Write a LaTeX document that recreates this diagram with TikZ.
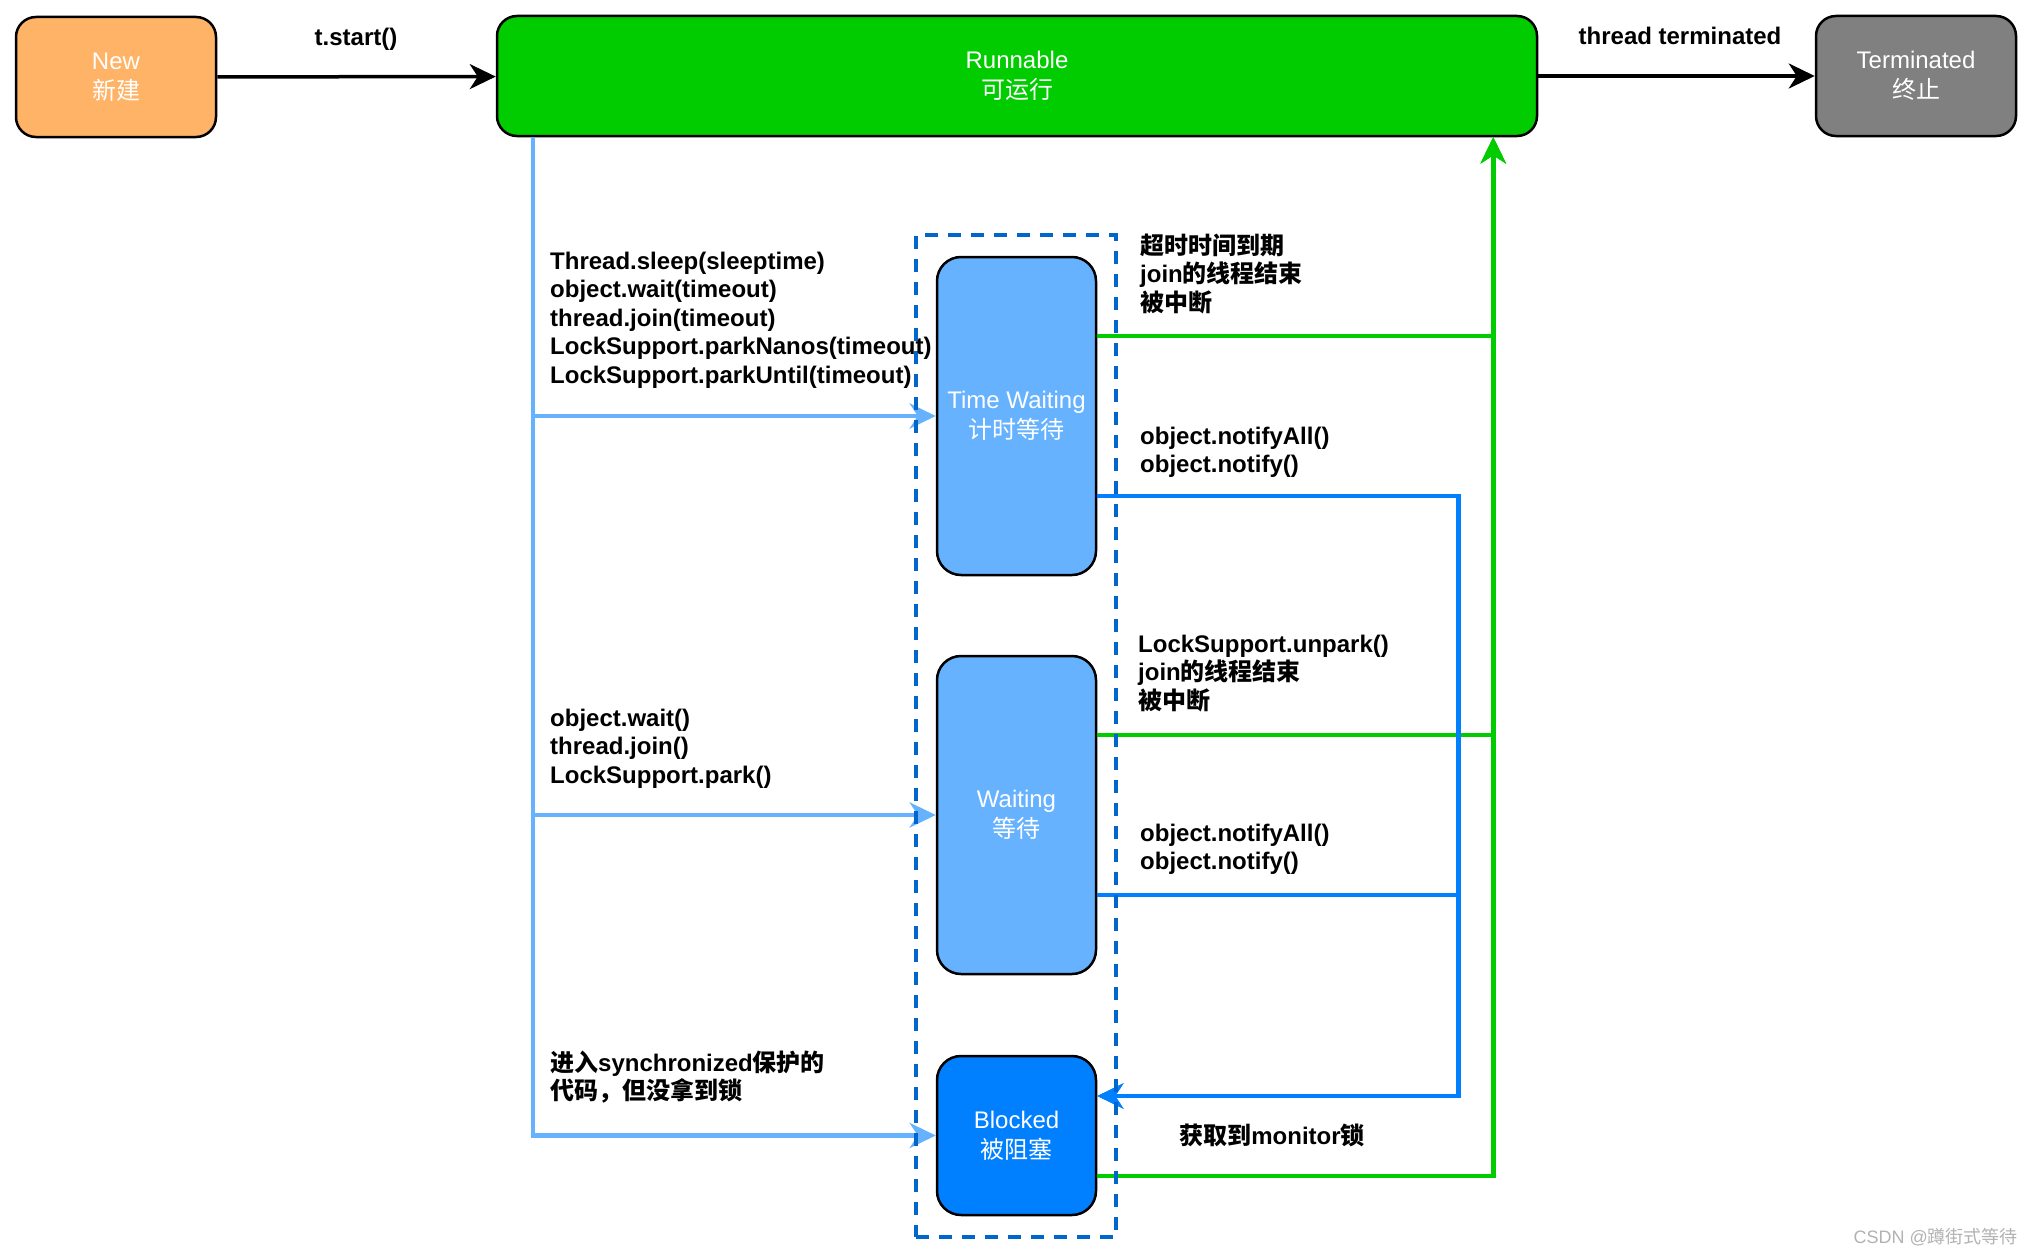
\documentclass[tikz,border=0pt]{standalone}
\usepackage{fontspec}
\setmainfont{Liberation Sans}
\newfontfamily\cjk{Noto Sans CJK SC}
\usetikzlibrary{arrows.meta}
\definecolor{newfill}{HTML}{FFB366}
\definecolor{runfill}{HTML}{00CC00}
\definecolor{termfill}{HTML}{808080}
\definecolor{lblue}{HTML}{66B2FF}
\definecolor{dblue}{HTML}{007FFF}
\definecolor{dashc}{HTML}{0066CC}
\definecolor{gline}{HTML}{00CC00}
\newcommand\fl{\rule{0pt}{22pt}}
\begin{document}
\begin{tikzpicture}[x=1pt,y=-1pt,
  box/.style={draw=black,line width=2.5pt,rounded corners=20pt,text=white,align=center,inner sep=0pt,font=\fontsize{24}{30}\selectfont},
  lab/.style={font=\bfseries\fontsize{24}{28.5}\selectfont,align=left,inner sep=0pt,anchor=north west},
  elab/.style={font=\bfseries\fontsize{24}{28.5}\selectfont,inner sep=0pt,anchor=base},
  tipst/.style={-{Stealth[length=26pt,width=25pt,inset=8pt]}},
  blk/.style={line width=3.5pt,draw=black,tipst},
  lbl/.style={line width=4.5pt,draw=lblue,tipst},
  grn/.style={line width=4.5pt,draw=gline,tipst},
  dbl/.style={line width=4.5pt,draw=dblue,tipst}]
\useasboundingbox (0,0) rectangle (2034,1255);

% states
\node[box,fill=newfill,minimum width=200pt,minimum height=120pt] (new) at (116,77) {New\\{\cjk 新建}};
\node[box,fill=runfill,minimum width=1040pt,minimum height=120pt] (run) at (1017,76) {Runnable\\{\cjk 可运行}};
\node[box,fill=termfill,minimum width=200pt,minimum height=120pt] (term) at (1916,76) {Terminated\\{\cjk 终止}};
\node[box,fill=lblue,minimum width=159pt,minimum height=318pt,rounded corners=24pt] (tw) at (1016.5,416) {Time Waiting\\{\cjk 计时等待}};
\node[box,fill=lblue,minimum width=159pt,minimum height=318pt,rounded corners=24pt] (wait) at (1016.5,815) {Waiting\\{\cjk 等待}};
\node[box,fill=dblue,minimum width=159pt,minimum height=159pt,rounded corners=24pt] (blk) at (1016.5,1135.5) {Blocked\\{\cjk 被阻塞}};

% top connectors
\draw[blk] (new) -- (run);
\draw[blk] (run) -- (term);
\node[elab] (lstart) at (356,46) {t.start()};
\node[elab] (lterm) at (1680,45) {thread terminated};

% left light-blue connectors
\draw[lbl] ([xshift=37pt]run.south west) |- (tw.west);
\draw[lbl] ([xshift=37pt]run.south west) |- (wait.west);
\draw[lbl] ([xshift=37pt]run.south west) |- (blk.west);

% green returns to Runnable
\draw[grn] ([yshift=80pt]tw.east) -| ([xshift=-45pt]run.south east);
\draw[grn] ([yshift=80pt]wait.east) -| ([xshift=-45pt]run.south east);
\draw[grn] ([yshift=-40.5pt]blk.east) -| ([xshift=-45pt]run.south east);

% blue notify to Blocked
\draw[dbl] ([yshift=-80pt]tw.east) -| ([xshift=361pt,yshift=39.5pt]blk.east) -- ([yshift=39.5pt]blk.east);
\draw[dbl] ([yshift=-80pt]wait.east) -| ([xshift=361pt,yshift=39.5pt]blk.east) -- ([yshift=39.5pt]blk.east);

% dashed group
\node[draw=dashc,line width=4pt,dash pattern=on 13pt off 10pt,minimum width=200pt,minimum height=1002pt,inner sep=0pt] (grp) at (1016,736) {};

% labels
\node[lab] (l1) at (550,247) {\fl Thread.sleep(sleeptime)\\object.wait(timeout)\\thread.join(timeout)\\LockSupport.parkNanos(timeout)\\LockSupport.parkUntil(timeout)};
\node[lab] (l2) at (550,704) {\fl object.wait()\\thread.join()\\LockSupport.park()};
\node[lab] (l3) at (550,1049) {\fl {\cjk 进入}synchronized{\cjk 保护的}\\{\cjk 代码，但没拿到锁}};
\node[lab] (r1) at (1140,232) {\fl {\cjk 超时时间到期}\\join{\cjk 的线程结束}\\{\cjk 被中断}};
\node[lab] (r2) at (1140,422) {\fl object.notifyAll()\\object.notify()};
\node[lab] (r3) at (1138,630) {\fl LockSupport.unpark()\\join{\cjk 的线程结束}\\{\cjk 被中断}};
\node[lab] (r4) at (1140,819) {\fl object.notifyAll()\\object.notify()};
\node[elab] (r5) at (1272,1144) {{\cjk 获取到}monitor{\cjk 锁}};

% watermark
\node[anchor=base east,inner sep=0pt,text=black!30,font=\fontsize{18}{20}\selectfont] (wm) at (2018,1243) {CSDN @{\cjk 蹲街式等待}};
\end{tikzpicture}
\end{document}
